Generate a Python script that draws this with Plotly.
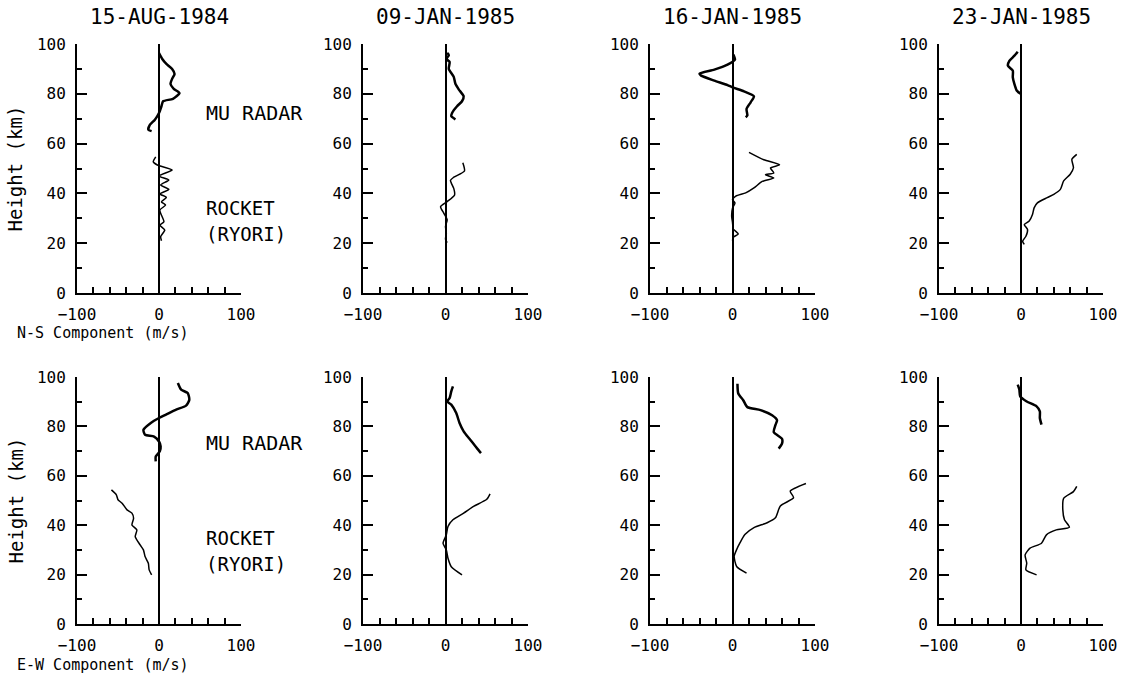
import plotly.graph_objects as go

W, H = 1133, 677

dates = ["15-AUG-1984", "09-JAN-1985", "16-JAN-1985", "23-JAN-1985"]
x_tick_vals = [-100, 0, 100]
y_tick_vals = [0, 20, 40, 60, 80, 100]

# ---- N-S component (top row) ----
ns1_radar_h = [96.4, 94, 92, 90, 88, 86, 84, 82, 80.3, 78, 77, 75, 72.3, 69.6, 67.6, 65.6, 65]
ns1_radar_v = [0, 4, 9, 16, 19, 16, 14, 18, 25, 17, 5, 3, 0, -5, -11, -13, -9]
ns1_rocket_h = [54.7, 52.7, 51.4, 49.4, 47, 45.4, 43.4, 41.6, 39.8, 38.4, 36.6, 35.3, 33.3, 28.6, 27.3, 25.3, 22.6, 21]
ns1_rocket_v = [-4, -7, -2, 16, 0, 12, 2, 12, 1, 9, 3, 8, 1, 6, 1, 7, 2, 3]

ns2_radar_h = [96.4, 95.5, 94, 92.8, 90, 86.8, 84, 81.8, 79, 77, 75, 72.3, 71, 69.7]
ns2_radar_v = [2, 4, 1, 5, 4, 10, 12, 16, 22, 20, 14, 8, 7, 12]
ns2_rocket_h = [52.3, 49, 46.5, 45.2, 42, 39.4, 36.7, 34.7, 32, 29.4, 26.7, 24, 21.6, 20.2]
ns2_rocket_v = [21, 23, 10, 6, 10, 11, 2, -6, -2, 2, 0, 1, 0, 2]

ns3_radar_h = [95.8, 93.7, 91.7, 89.7, 88.1, 87.3, 85.3, 83.5, 82.6, 81, 79, 76.6, 73.9, 71.3, 70.6]
ns3_radar_v = [1, 3, -6, -22, -40, -38, -22, -6, 0, 14, 26, 22, 17, 18, 16]
ns3_rocket_h = [56.5, 53.5, 51.5, 50.2, 48.2, 47.5, 46.2, 44.8, 42.2, 40.2, 38.9, 37.5, 36.1, 34.1, 30.7, 28.4, 25.7, 23.7, 22.4, 21]
ns3_rocket_v = [20, 38, 57, 46, 50, 40, 50, 36, 26, 16, 4, 0, 3, 0, -1, 0, 1, 7, 1, 0]

ns4_radar_h = [96.9, 95.3, 93.3, 91.3, 89.3, 86.6, 83.9, 81.2, 79.9]
ns4_radar_v = [-4, -8, -14, -16, -10, -10, -8, -5, 0]
ns4_rocket_h = [55.7, 53.7, 50.3, 47.7, 45, 41.6, 39.6, 38.3, 36.2, 34.2, 31.5, 28.9, 27.5, 25.5, 22.8, 20.8, 19.5]
ns4_rocket_v = [68, 62, 64, 60, 52, 48, 40, 32, 20, 16, 14, 10, 4, 8, 6, 2, 4]

# ---- E-W component (bottom row) ----
ew1_radar_h = [97.6, 94.9, 93.5, 90.8, 88.4, 86.8, 84.7, 83.4, 81.4, 78.6, 76.6, 75.9, 73.9, 71.9, 69.9, 67.8, 65.8]
ew1_radar_v = [23, 27, 35, 37, 33, 21, 8, 0, -10, -19, -17, -6, 0, 2, 1, -4, -4]
ew1_rocket_h = [54.3, 52.3, 50.3, 48.9, 46.2, 44.9, 42.8, 40.1, 38.1, 35.4, 32, 30, 27.3, 24.6, 21.9, 19.9]
ew1_rocket_v = [-58, -52, -50, -45, -39, -33, -31, -33, -27, -29, -23, -19, -17, -13, -12, -9]

ew2_radar_h = [96.2, 94.2, 91.5, 90.1, 88.8, 85.4, 81.4, 78, 74.6, 71.2, 69.2]
ew2_radar_v = [9, 7, 5, 2, 7, 13, 17, 22, 30, 38, 43]
ew2_rocket_h = [52.7, 50.5, 47.6, 44.9, 42.2, 39.5, 36.1, 32.7, 30, 26.6, 23.2, 19.9]
ew2_rocket_v = [54, 50, 34, 22, 9, 3, 1, -3, 1, 3, 7, 20]

ew3_radar_h = [97.3, 93.3, 90.6, 87.8, 86.6, 84.5, 82.5, 80.5, 77.7, 75, 73, 71]
ew3_radar_v = [6, 7, 13, 18, 34, 48, 54, 52, 50, 60, 60, 56]
ew3_rocket_h = [56.9, 53.8, 51.1, 47.8, 43, 41, 39, 36.2, 32.8, 30.1, 27.4, 23.3, 20.6]
ew3_rocket_v = [89, 70, 74, 58, 52, 42, 26, 15, 9, 5, 2, 5, 17]

ew4_radar_h = [96.9, 94.9, 92.2, 90.1, 88.1, 86.1, 83.4, 80.7]
ew4_radar_v = [-4, -2, -1, 7, 19, 23, 23, 25]
ew4_rocket_h = [55.7, 53.6, 50.9, 46.2, 42.2, 39.2, 38.1, 36.1, 32.7, 30.7, 28, 24.6, 21.9, 19.9]
ew4_rocket_v = [68, 64, 52, 51, 53, 59, 43, 31, 25, 11, 5, 7, 6, 19]

ns_profiles = [
    (ns1_radar_h, ns1_radar_v, ns1_rocket_h, ns1_rocket_v),
    (ns2_radar_h, ns2_radar_v, ns2_rocket_h, ns2_rocket_v),
    (ns3_radar_h, ns3_radar_v, ns3_rocket_h, ns3_rocket_v),
    (ns4_radar_h, ns4_radar_v, ns4_rocket_h, ns4_rocket_v),
]
ew_profiles = [
    (ew1_radar_h, ew1_radar_v, ew1_rocket_h, ew1_rocket_v),
    (ew2_radar_h, ew2_radar_v, ew2_rocket_h, ew2_rocket_v),
    (ew3_radar_h, ew3_radar_v, ew3_rocket_h, ew3_rocket_v),
    (ew4_radar_h, ew4_radar_v, ew4_rocket_h, ew4_rocket_v),
]

# ---- layout geometry (pixels) ----
col_px = [(77, 241), (363, 528), (650, 815), (939, 1103)]
row_px = [(44, 293), (377, 624)]  # top row, bottom row (top, bottom in px)

FONT = "DejaVu Sans Mono"
fig = go.Figure()
layout = dict(
    width=W, height=H,
    margin=dict(l=0, r=0, t=0, b=0, autoexpand=False),
    paper_bgcolor="white", plot_bgcolor="white",
    showlegend=False,
    font=dict(family=FONT, size=16, color="black"),
)

annotations = []
idx = 0
for r, profiles in enumerate([ns_profiles, ew_profiles]):
    top, bot = row_px[r]
    for c, (rh, rv, kh, kv) in enumerate(profiles):
        idx += 1
        sfx = "" if idx == 1 else str(idx)
        x0, x1 = col_px[c]
        xa = dict(
            domain=[x0 / W, x1 / W], range=[-100, 100], anchor="y" + sfx,
            automargin=False,
            showline=True, linecolor="black", linewidth=2, mirror=False,
            showgrid=False, zeroline=True, zerolinecolor="black", zerolinewidth=1.5,
            tickmode="array", tickvals=x_tick_vals, ticks="inside", ticklen=10,
            tickwidth=1.5, tickcolor="black",
            minor=dict(dtick=20, tick0=0, ticks="inside", ticklen=6, tickwidth=1.5, tickcolor="black"),
            tickfont=dict(family=FONT, size=16), ticklabelstandoff=6,
            fixedrange=True,
        )
        ya = dict(
            domain=[1 - bot / H, 1 - top / H], range=[0, 100], anchor="x" + sfx,
            automargin=False,
            showline=True, linecolor="black", linewidth=2,
            showgrid=False, zeroline=False,
            tickmode="array", tickvals=y_tick_vals, ticks="inside", ticklen=10,
            tickwidth=1.5, tickcolor="black",
            minor=dict(dtick=10, tick0=0, ticks="inside", ticklen=5, tickwidth=1.5, tickcolor="black"),
            tickfont=dict(family=FONT, size=16), ticklabelstandoff=6,
            fixedrange=True,
        )
        layout["xaxis" + sfx] = xa
        layout["yaxis" + sfx] = ya
        fig.add_trace(go.Scatter(x=rv, y=rh, mode="lines", xaxis="x" + sfx, yaxis="y" + sfx,
                                 line=dict(color="black", width=2.5, shape="spline", smoothing=0.6),
                                 hoverinfo="skip"))
        fig.add_trace(go.Scatter(x=kv, y=kh, mode="lines", xaxis="x" + sfx, yaxis="y" + sfx,
                                 line=dict(color="black", width=1.5, shape="spline", smoothing=0.6),
                                 hoverinfo="skip"))
        if r == 0:
            annotations.append(dict(text=dates[c], x=(x0 + x1) / 2 / W, y=1 - 17 / H,
                                    xref="paper", yref="paper", showarrow=False,
                                    xanchor="center", yanchor="middle",
                                    font=dict(family=FONT, size=21)))

# side labels
for r, (top, bot) in enumerate(row_px):
    off = 0 if r == 0 else 330
    annotations.append(dict(text="Height (km)", x=15 / W, y=1 - (top + bot) / 2 / H,
                            xref="paper", yref="paper", showarrow=False, textangle=-90,
                            xanchor="center", yanchor="middle", font=dict(family=FONT, size=19)))
    annotations.append(dict(text="MU RADAR", x=204 / W, y=1 - (113 + off) / H,
                            xref="paper", yref="paper", showarrow=False,
                            xanchor="left", yanchor="middle", font=dict(family=FONT, size=20)))
    annotations.append(dict(text="ROCKET", x=204 / W, y=1 - (221 + off) / H,
                            xref="paper", yref="paper", showarrow=False,
                            xanchor="left", yanchor="bottom", font=dict(family=FONT, size=19)))
    annotations.append(dict(text="(RYORI)", x=204 / W, y=1 - (221 + off) / H,
                            xref="paper", yref="paper", showarrow=False,
                            xanchor="left", yanchor="top", font=dict(family=FONT, size=19)))

annotations.append(dict(text="N-S Component (m/s)", x=15 / W, y=1 - 333 / H,
                        xref="paper", yref="paper", showarrow=False,
                        xanchor="left", yanchor="middle", font=dict(family=FONT, size=15)))
annotations.append(dict(text="E-W Component (m/s)", x=15 / W, y=1 - 665 / H,
                        xref="paper", yref="paper", showarrow=False,
                        xanchor="left", yanchor="middle", font=dict(family=FONT, size=15)))

layout["annotations"] = annotations
fig.update_layout(**layout)
fig.write_html("out.html")
